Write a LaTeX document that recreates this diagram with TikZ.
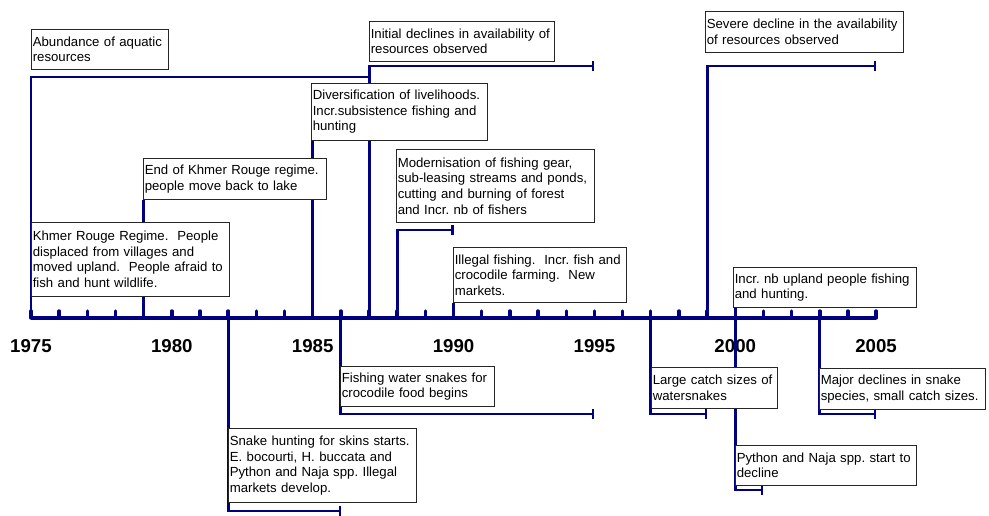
\documentclass[tikz,border=0pt]{standalone}
\usepackage{fontspec}
\setmainfont{Liberation Sans}
\usepackage{tikz}
\usetikzlibrary{arrows.meta, positioning, backgrounds}
\definecolor{linenavy}{RGB}{0,0,128}

\begin{document}
\begin{tikzpicture}[x=0.75pt, y=-0.75pt,
    font=\fontsize{9.9}{11.7}\selectfont\frenchspacing]

  \tikzset{
    eventbox/.style={rectangle, draw=black!85, fill=white, line width=0.7pt,
      anchor=north west, inner xsep=1pt, inner ysep=1pt, align=left},
    periodline/.style={draw=linenavy, line width=2.2pt},
    endbar/.style={periodline, -{Bar[width=7pt, line width=1.6pt]}},
    tickmark/.style={draw=linenavy, line width=2.6pt, line cap=round},
    yearlabel/.style={font=\fontsize{14}{16}\selectfont\bfseries}
  }

  \useasboundingbox (0,0) rectangle (989,515);

  \foreach \yr in {1975,...,2005} {
    \coordinate (t\yr) at ({31+(\yr-1975)*28.17},318);
    \draw[tickmark] (t\yr) -- ++(0,-7);
  }
  \draw[periodline, line width=2.8pt] (t1975) -- (t2005);

  \foreach \yr in {1975,1980,...,2005}
    \node[yearlabel] (l\yr) at ({31+(\yr-1975)*28.17},346) {\yr};

  \coordinate (ab87) at (t1987 |- 0,77);
  \coordinate (id95) at (t1995 |- 0,66);
  \coordinate (md90) at (t1990 |- 0,230);
  \coordinate (sv05) at (t2005 |- 0,66);
  \coordinate (py01) at (t2001 |- 0,490);
  \coordinate (lc99) at (t1999 |- 0,414);
  \coordinate (mj05) at (t2005 |- 0,414);
  \coordinate (cf95) at (t1995 |- 0,414);
  \coordinate (sk86) at (t1986 |- 0,511);

  \draw[periodline] (t1975) |- (ab87);
  \draw[endbar] (t1987) |- (id95);
  \draw[endbar] (t1988) |- (md90);
  \draw[endbar] (t1999) |- (sv05);
  \draw[endbar] (t2000) |- (py01);
  \draw[endbar] (t1997) |- (lc99);
  \draw[endbar] (t2003) |- (mj05);
  \draw[endbar] (t1986) |- (cf95);
  \draw[endbar] (t1982) |- (sk86);

  \node[eventbox, text width=100.75pt, minimum height=30pt] (abund) at (31,29) {
    Abundance of aquatic\\
    resources
  };
  \node[eventbox, text width=136.75pt, minimum height=30pt] (initdec) at (369,21) {
    Initial declines in availability of\\
    resources observed
  };
  \node[eventbox, text width=130pt, minimum height=42.75pt] (divers) at (311,83) {
    Diversification of livelihoods.\\
    Incr.subsistence fishing and\\
    hunting
  };
  \node[eventbox, text width=135.25pt, minimum height=30.75pt] (endkr) at (143,158) {
    End of Khmer Rouge regime.\\
    people move back to lake
  };
  \node[eventbox, text width=146.5pt, minimum height=55.5pt] (khmer) at (31,222) {
    Khmer Rouge Regime.~ People\\
    displaced from villages and\\
    moved upland.~ People afraid to\\
    fish and hunt wildlife.
  };
  \node[eventbox, text width=146.5pt, minimum height=54.75pt] (modern) at (396,149) {
    Modernisation of fishing gear,\\
    sub-leasing streams and ponds,\\
    cutting and burning of forest\\
    and Incr. nb of fishers
  };
  \node[eventbox, text width=127.75pt, minimum height=41.25pt] (illegal) at (453,247) {
    Illegal fishing.~ Incr. fish and\\
    crocodile farming.~ New\\
    markets.
  };
  \node[eventbox, text width=146.5pt, minimum height=30.75pt] (severe) at (705,11) {
    Severe decline in the availability\\
    of resources observed
  };
  \node[eventbox, text width=135.25pt, minimum height=30pt] (upland) at (733,267) {
    Incr. nb upland people fishing\\
    and hunting.
  };
  \node[eventbox, text width=113.5pt, minimum height=30pt] (crocfood) at (340,366) {
    Fishing water snakes for\\
    crocodile food begins
  };
  \node[eventbox, text width=139pt, minimum height=55.5pt] (skins) at (228,428) {
    Snake hunting for skins starts.\\
    E. bocourti, H. buccata and\\
    Python and Naja spp. Illegal\\
    markets develop.
  };
  \node[eventbox, text width=92.5pt, minimum height=30.75pt] (largecatch) at (651,367) {
    Large catch sizes of\\
    watersnakes
  };
  \node[eventbox, text width=122.5pt, minimum height=30.75pt] (major) at (819,368) {
    Major declines in snake\\
    species, small catch sizes.
  };
  \node[eventbox, text width=133.75pt, minimum height=30pt] (python) at (735,445) {
    Python and Naja spp. start to\\
    decline
  };

  \begin{scope}[on background layer]
    \draw[periodline] (t1985) -- (t1985 |- divers.south);
    \draw[periodline] (t1979) -- (t1979 |- endkr.south);
    \draw[periodline] (t1990) -- (t1990 |- illegal.south);
    \draw[periodline] (t2000) -- (t2000 |- upland.south);
  \end{scope}

\end{tikzpicture}
\end{document}
